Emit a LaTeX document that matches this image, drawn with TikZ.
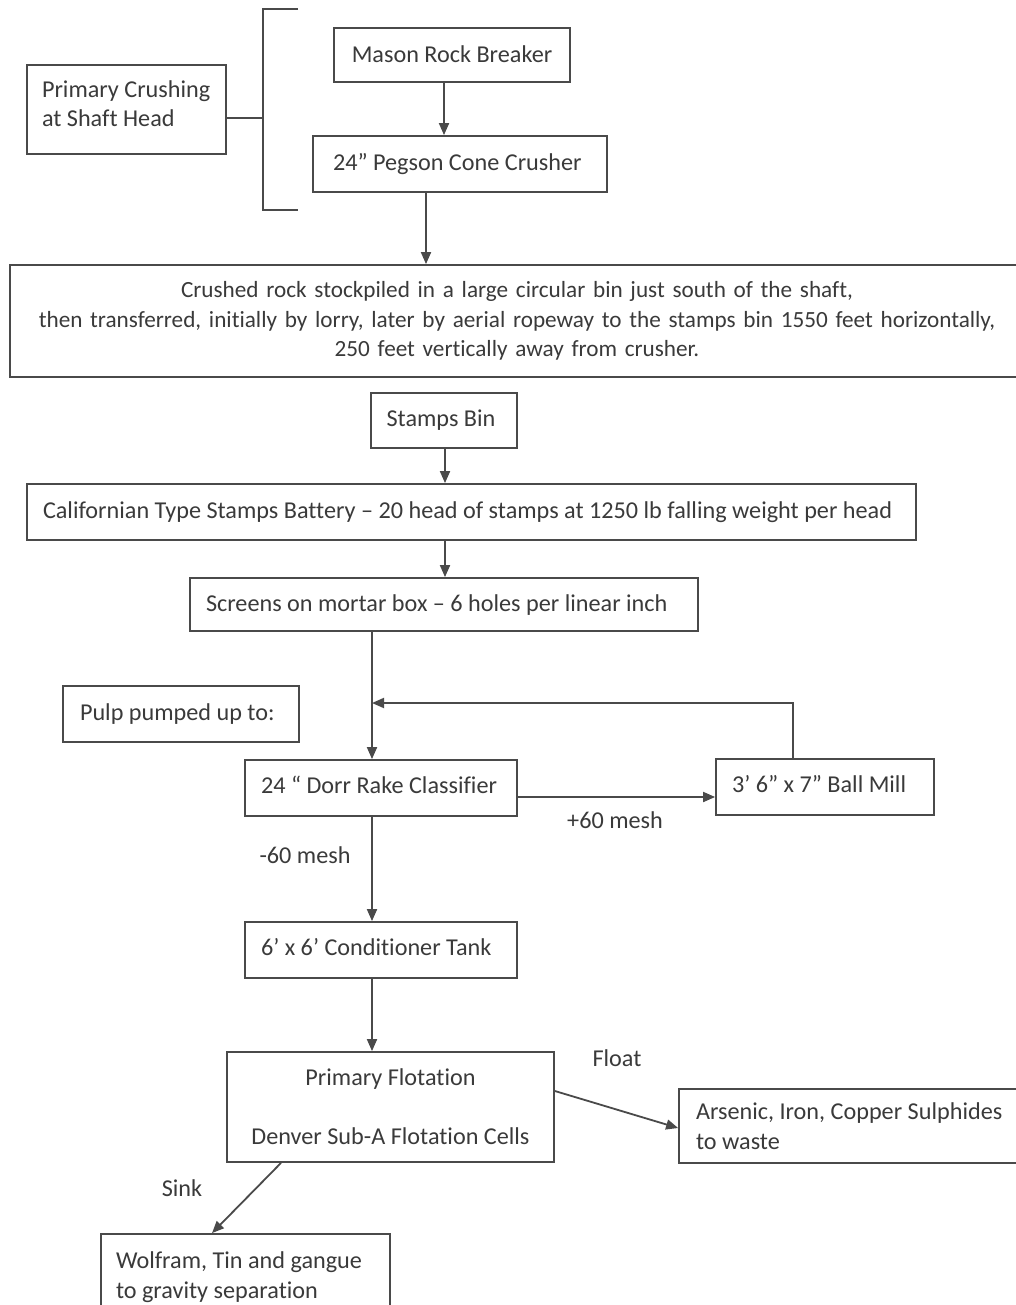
\documentclass[tikz,border=0pt]{standalone}
\usepackage{fontspec}
\setmainfont[Ligatures=CommonOff]{Carlito}
\usetikzlibrary{arrows.meta}
\definecolor{ink}{HTML}{3A3A3A}
\definecolor{linec}{HTML}{4A4A4A}
\newcommand{\oneline}[1]{\mbox{#1}}
\newcommand{\liftby}[1]{\\[\dimexpr-29.5pt+#1\relax]\mbox{}}
\begin{document}
\begin{tikzpicture}[x=1pt,y=-1pt,
  font=\fontsize{24.2}{29.5}\selectfont, text=ink,
  box/.style={draw=linec, line width=1.8pt, inner sep=0pt},
  lbox/.style={box, align=flush left},
  cbox/.style={box, align=center},
  arr/.style={draw=linec, line width=1.8pt, -{Triangle[length=12pt,width=10pt]}},
  plain/.style={draw=linec, line width=1.6pt},
  lbl/.style={inner sep=0pt}]
\useasboundingbox (0,0) rectangle (1016,1305);
\clip (0,0) rectangle (1016,1305);
\fill[white] (0,0) rectangle (1016,1305);

% nodes
\node[lbox, minimum width=199, minimum height=89, text width=169] (crush) at (126.5,109.5) {\oneline{Primary Crushing}\\\oneline{at Shaft Head}\liftby{12pt}};
\node[cbox, minimum width=236, minimum height=54] (mason) at (452,55) {\oneline{Mason Rock Breaker}\liftby{2pt}};
\node[lbox, minimum width=294, minimum height=56, text width=254] (pegson) at (460,164) {\oneline{24” Pegson Cone Crusher}};
\node[cbox, minimum width=1014, minimum height=112, text width=1000, font=\fontsize{23.2}{29.5}\selectfont] (big) at (517,321) {Crushed rock stockpiled in a large circular bin just south of the shaft,\\then transferred, initially by lorry, later by aerial ropeway to the stamps bin 1550 feet horizontally,\\250 feet vertically away from crusher.};
\node[cbox, minimum width=146, minimum height=55] (stamps) at (444,420.5) {\oneline{\hspace*{-6pt}Stamps Bin}};
\node[lbox, minimum width=889, minimum height=56, text width=857] (calif) at (471.5,512) {\oneline{Californian Type Stamps Battery – 20 head of stamps at 1250 lb falling weight per head}\liftby{4pt}};
\node[lbox, minimum width=508, minimum height=53, text width=476] (screens) at (444,604.5) {\oneline{Screens on mortar box – 6 holes per linear inch}\liftby{2pt}};
\node[lbox, minimum width=236, minimum height=56, text width=202] (pulp) at (181,714) {\oneline{Pulp pumped up to:}};
\node[lbox, minimum width=272, minimum height=56, text width=240] (dorr) at (381,788) {\oneline{24 “ Dorr Rake Classifier}\liftby{6pt}};
\node[lbox, minimum width=218, minimum height=56, text width=186] (ball) at (825,787) {\oneline{3’ 6” x 7” Ball Mill}\liftby{6pt}};
\node[lbox, minimum width=272, minimum height=56, text width=240] (cond) at (381,950) {\oneline{6’ x 6’ Conditioner Tank}\liftby{6pt}};
\node[cbox, minimum width=327, minimum height=110] (flot) at (390.5,1107) {Primary Flotation\\[29.5pt]Denver Sub-A Flotation Cells};
\node[lbox, minimum width=351, minimum height=74, text width=317] (ars) at (854.5,1126) {\oneline{Arsenic, Iron, Copper Sulphides}\\\oneline{to waste}};
\node[lbox, minimum width=289, minimum height=86, text width=259] (wolf) at (245.5,1277) {\oneline{Wolfram, Tin and gangue}\\\oneline{to gravity separation}};

% bracket
\coordinate (bt) at (298,9);
\coordinate (bb) at (298,210);
\coordinate (bm) at (263,118);
\draw[plain] (bt) -- (bt -| bm) -- (bb -| bm) -- (bb);
\draw[plain] (crush.east |- bm) -- (bm);

% arrows
\draw[arr] ([xshift=-8pt]mason.south) -- ([xshift=-8pt]mason.south |- pegson.north);
\draw[arr] ([xshift=-34pt]pegson.south) -- ([xshift=-34pt]pegson.south |- big.north);
\draw[arr] ([xshift=1pt]stamps.south) -- ([xshift=1pt]stamps.south |- calif.north);
\draw[arr] ([xshift=1pt]stamps.south |- calif.south) -- ([xshift=1pt]stamps.south |- screens.north);
\coordinate (jn) at (372,703);
\draw[arr] ([xshift=-9pt]dorr.north |- screens.south) -- ([xshift=-9pt]dorr.north);
\draw[arr] ([xshift=-32pt]ball.north) |- (jn);
\draw[arr] ([yshift=-9pt]dorr.east) -- ([yshift=-9pt]dorr.east -| ball.west);
\draw[arr] ([xshift=-9pt]dorr.south) -- ([xshift=-9pt]cond.north);
\draw[arr] ([xshift=-9pt]cond.south) -- ([xshift=-9pt]cond.south |- flot.north);
\draw[arr] ([yshift=16pt]flot.east) -- ([yshift=-2pt]ars.west);
\draw[arr] ([xshift=-109.5pt]flot.south) -- ([xshift=-33.5pt]wolf.north);

% labels
\node[lbl] (l60p) at (615,820) {+60 mesh};
\node[lbl] (l60m) at (305,855) {-60 mesh};
\node[lbl] (lfloat) at (617,1058) {Float};
\node[lbl] (lsink) at (182,1188) {Sink};
\end{tikzpicture}
\end{document}
